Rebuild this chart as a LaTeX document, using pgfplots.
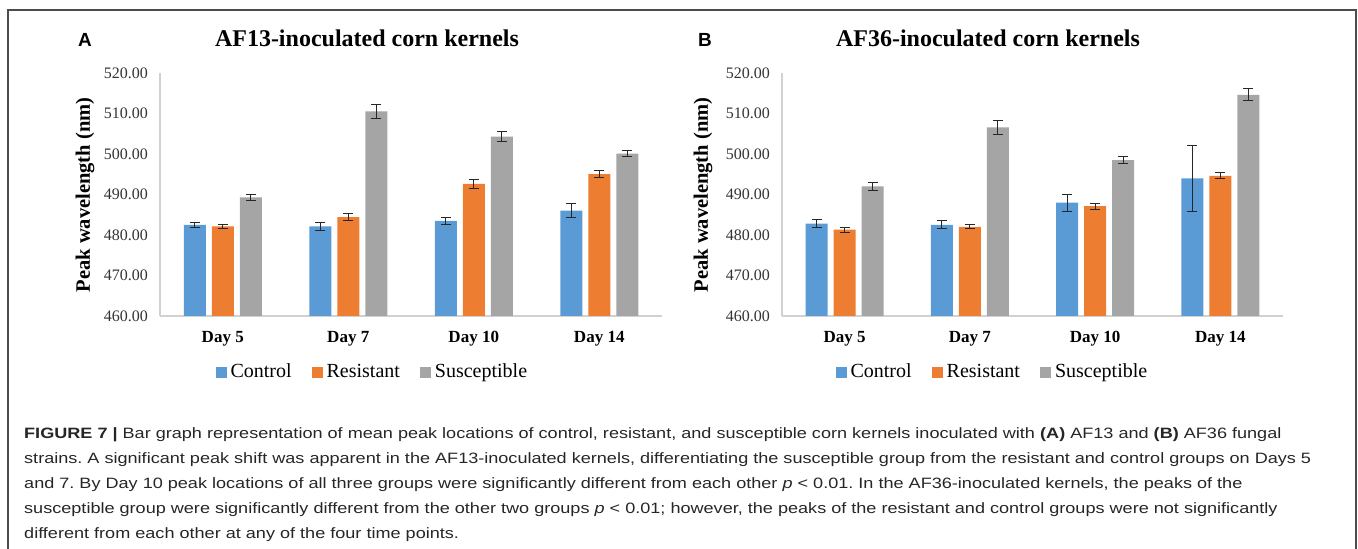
\documentclass[border=0pt]{standalone}
\usepackage{fontspec}
\setmainfont{Liberation Serif}
\newfontfamily\capfont{Liberation Sans}
\newfontfamily\letterfont{Liberation Sans}
\usepackage{graphicx}
\usepackage{pgfplots}
\pgfplotsset{compat=1.18}
\definecolor{cblue}{HTML}{5B9BD5}
\definecolor{corange}{HTML}{ED7D31}
\definecolor{cgray}{HTML}{A5A5A5}
\newlength\capw

% x  y  err
\pgfplotstableread{
x y e
0 482.5 0.6
1 482.1 1.05
2 483.5 0.8
3 486.0 1.7
}\AControl
\pgfplotstableread{
x y e
0 482.1 0.4
1 484.4 0.8
2 492.6 1.05
3 495.0 0.85
}\AResistant
\pgfplotstableread{
x y e
0 489.3 0.75
1 510.5 1.7
2 504.3 1.3
3 500.1 0.7
}\ASuscept
\pgfplotstableread{
x y e
0 482.8 0.95
1 482.5 1.0
2 488.0 2.1
3 494.0 8.1
}\BControl
\pgfplotstableread{
x y e
0 481.3 0.6
1 482.0 0.5
2 487.1 0.8
3 494.6 0.75
}\BResistant
\pgfplotstableread{
x y e
0 492.0 0.9
1 506.6 1.8
2 498.5 0.8
3 514.6 1.5
}\BSuscept

\pgfplotsset{
  sqlegend/.style={legend image code/.code={\fill[##1,draw=none] (0pt,-1pt) rectangle (11pt,10pt);}},
  errs/.style={error bars/.cd, y dir=both, y explicit,
    error bar style={line width=0.9pt, black!85},
    error mark options={rotate=90, mark size=5pt, line width=0.9pt, black!85}},
  panel/.style={
    scale only axis, height=243pt,
    ymin=460, ymax=520, xmin=-0.5, xmax=3.5,
    ytick={460,470,480,490,500,510,520},
    scaled y ticks=false,
    yticklabel style={/pgf/number format/.cd, fixed, fixed zerofill, precision=2, 1000 sep={}, assume math mode=true,
      /tikz/.cd, font=\fontsize{16}{18}\selectfont, text=black!80, anchor=east, inner sep=0pt, xshift=-12pt},
    xtick={0,1,2,3},
    xticklabels={Day 5, Day 7, Day 10, Day 14},
    xticklabel style={font=\bfseries\fontsize{17}{19}\selectfont, anchor=base, inner sep=0pt, yshift=-27pt},
    major tick length=0pt,
    axis lines*=left,
    axis line style={draw=black!18, line width=1.1pt, -},
    ybar, bar width=22pt,
    legend columns=3,
    legend cell align=left,
    legend style={draw=none, fill=none, anchor=center, font=\fontsize{20}{22}\selectfont,
      nodes={inner xsep=0pt, inner ysep=0pt, text height=14pt, text depth=4pt, anchor=base west},
      /tikz/every odd column/.append style={column sep=4pt},
      /tikz/every even column/.append style={column sep=20pt}},
    clip=false,
  }
}

\begin{document}
\frenchspacing
\settowidth\capw{\capfont\fontsize{15}{18}\selectfont strains. A significant peak shift was apparent in the AF13-inoculated kernels, differentiating the susceptible group from the resistant and control groups on Days 5}%
\pgfmathsetmacro\capr{1287/\capw}%
\begin{tikzpicture}[x=1pt,y=1pt]
\useasboundingbox (0,0) rectangle (1358,549);
\draw[black!70, line width=1.1pt] (8,-3) -- (8,539) -- (1356,539) -- (1356,-3);

% Panel A
\begin{axis}[panel, at={(160pt,233pt)}, anchor=south west, width=502pt,
  legend style={at={(0.421,-0.2305)}}]
\addplot[fill=cblue, draw=none, bar shift=-28pt, sqlegend, errs] table[x=x, y=y, y error=e] {\AControl};
\addplot[fill=corange, draw=none, bar shift=0pt, sqlegend, errs] table[x=x, y=y, y error=e] {\AResistant};
\addplot[fill=cgray, draw=none, bar shift=28pt, sqlegend, errs] table[x=x, y=y, y error=e] {\ASuscept};
\legend{Control, Resistant, Susceptible}
\end{axis}

% Panel B
\begin{axis}[panel, at={(782pt,233pt)}, anchor=south west, width=501pt,
  legend style={at={(0.418,-0.2305)}}]
\addplot[fill=cblue, draw=none, bar shift=-28pt, sqlegend, errs] table[x=x, y=y, y error=e] {\BControl};
\addplot[fill=corange, draw=none, bar shift=0pt, sqlegend, errs] table[x=x, y=y, y error=e] {\BResistant};
\addplot[fill=cgray, draw=none, bar shift=28pt, sqlegend, errs] table[x=x, y=y, y error=e] {\BSuscept};
\legend{Control, Resistant, Susceptible}
\end{axis}

% titles and labels
\node[font=\letterfont\bfseries\fontsize{19}{21}\selectfont] at (85,509) {A};
\node[font=\letterfont\bfseries\fontsize{19}{21}\selectfont] at (705,509) {B};
\node[font=\bfseries\fontsize{24}{27}\selectfont] at (367,511) {AF13-inoculated corn kernels};
\node[font=\bfseries\fontsize{24}{27}\selectfont] at (988,511) {AF36-inoculated corn kernels};
\node[font=\bfseries\fontsize{20.5}{23}\selectfont, rotate=90] at (85,354) {Peak wavelength (nm)};
\node[font=\bfseries\fontsize{20.5}{23}\selectfont, rotate=90] at (703,354) {Peak wavelength (nm)};

% caption
\begin{scope}[every node/.style={anchor=base west, inner sep=0pt, text=black!85, font=\capfont\fontsize{15}{18}\selectfont}]
\node at (24,110) {\scalebox{\capr}[1]{\textbf{FIGURE 7} \textbf{|} Bar graph representation of mean peak locations of control, resistant, and susceptible corn kernels inoculated with \textbf{(A)} AF13 and \textbf{(B)} AF36 fungal}};
\node at (24,85) {\scalebox{\capr}[1]{strains. A significant peak shift was apparent in the AF13-inoculated kernels, differentiating the susceptible group from the resistant and control groups on Days 5}};
\node at (24,60) {\scalebox{\capr}[1]{and 7. By Day 10 peak locations of all three groups were significantly different from each other \textit{p} < 0.01. In the AF36-inoculated kernels, the peaks of the}};
\node at (24,35.5) {\scalebox{\capr}[1]{susceptible group were significantly different from the other two groups \textit{p} < 0.01; however, the peaks of the resistant and control groups were not significantly}};
\node at (24,10.5) {\scalebox{\capr}[1]{different from each other at any of the four time points.}};
\end{scope}
\end{tikzpicture}
\end{document}
